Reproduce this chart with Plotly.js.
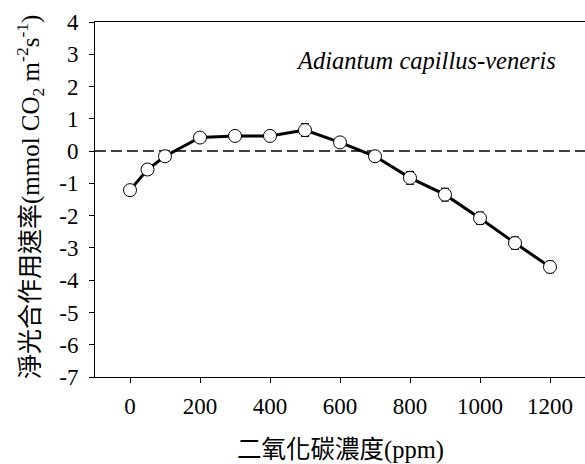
<!DOCTYPE html>
<html>
<head>
<meta charset="utf-8">
<script src="https://cdn.plot.ly/plotly-3.0.1.min.js"></script>
<style>html,body{margin:0;padding:0;background:#fff;}#chart{width:585px;height:464px;}</style>
</head>
<body>
<div id="chart"></div>
<script>
const co2 = [0, 50, 100, 200, 300, 400, 500, 600, 700, 800, 900, 1000, 1100, 1200];
const netRate = [-1.21, -0.57, -0.16, 0.42, 0.47, 0.47, 0.65, 0.27, -0.16, -0.83, -1.35, -2.08, -2.85, -3.59];
const errBar = [0.05, 0.05, 0.05, 0.05, 0.05, 0.05, 0.2, 0.08, 0.15, 0.2, 0.2, 0.19, 0.19, 0.18];
const xTicks = [0, 200, 400, 600, 800, 1000, 1200];
const yTicks = [4, 3, 2, 1, 0, -1, -2, -3, -4, -5, -6, -7];
const speciesLabel = 'Adiantum capillus-veneris';
const xTitle = '二氧化碳濃度(ppm)';
const yTitle = '淨光合作用速率(mmol CO<sub>2</sub> m<sup>-2</sup>s<sup>-1</sup>)';

const FONT = 'Times New Roman, Liberation Serif, Noto Sans CJK TC, serif';

const trace = {
  x: co2, y: netRate, type: 'scatter', mode: 'lines+markers',
  line: {color: '#000', width: 3},
  marker: {symbol: 'circle', size: 13, color: '#fff', line: {color: '#000', width: 1}},
  error_y: {type: 'data', array: errBar, visible: true, color: '#000', thickness: 1, width: 4},
  hoverinfo: 'skip'
};

const layout = {
  width: 585, height: 464,
  margin: {l: 95, r: 0, t: 22, b: 87},
  paper_bgcolor: '#fff', plot_bgcolor: '#fff',
  showlegend: false,
  font: {family: FONT, color: '#000', size: 23},
  xaxis: {
    range: [-100, 1300], tickvals: xTicks, ticktext: xTicks.map(String),
    showgrid: false, zeroline: false, showline: true, linecolor: '#000', linewidth: 1,
    mirror: true, ticks: 'outside', ticklen: 5, tickcolor: '#000',
    ticklabelstandoff: 3,
    tickfont: {family: FONT, size: 23, color: '#000'}
  },
  yaxis: {
    range: [-7, 4], tickvals: yTicks, ticktext: yTicks.map(String),
    showgrid: false, zeroline: false, showline: true, linecolor: '#000', linewidth: 1,
    ticks: 'outside', ticklen: 5, tickcolor: '#000',
    ticklabelstandoff: 6,
    tickfont: {family: FONT, size: 23, color: '#000'}
  },
  shapes: [{
    type: 'line', xref: 'paper', x0: 0, x1: 1, yref: 'y', y0: 0, y1: 0,
    line: {color: '#000', width: 1.5, dash: '11px,5px'}, layer: 'below'
  }],
  annotations: [
    {
      text: '<i>' + speciesLabel + '</i>', xref: 'paper', yref: 'y',
      x: 0.945, y: 2.8, xanchor: 'right', yanchor: 'middle', showarrow: false,
      font: {family: FONT, size: 24.5, color: '#000'}
    },
    {
      text: xTitle, xref: 'paper', yref: 'paper',
      x: 0.5, y: -0.207, xanchor: 'center', yanchor: 'middle', showarrow: false,
      borderpad: 0,
      font: {family: FONT, size: 24.5, color: '#000'}
    },
    {
      text: yTitle, xref: 'paper', yref: 'paper', textangle: -90,
      x: -0.1326, y: 0.507, xanchor: 'center', yanchor: 'middle', showarrow: false,
      font: {family: FONT, size: 25, color: '#000'}
    }
  ]
};

Plotly.newPlot('chart', [trace], layout, {staticPlot: true, displayModeBar: false});
</script>
</body>
</html>
